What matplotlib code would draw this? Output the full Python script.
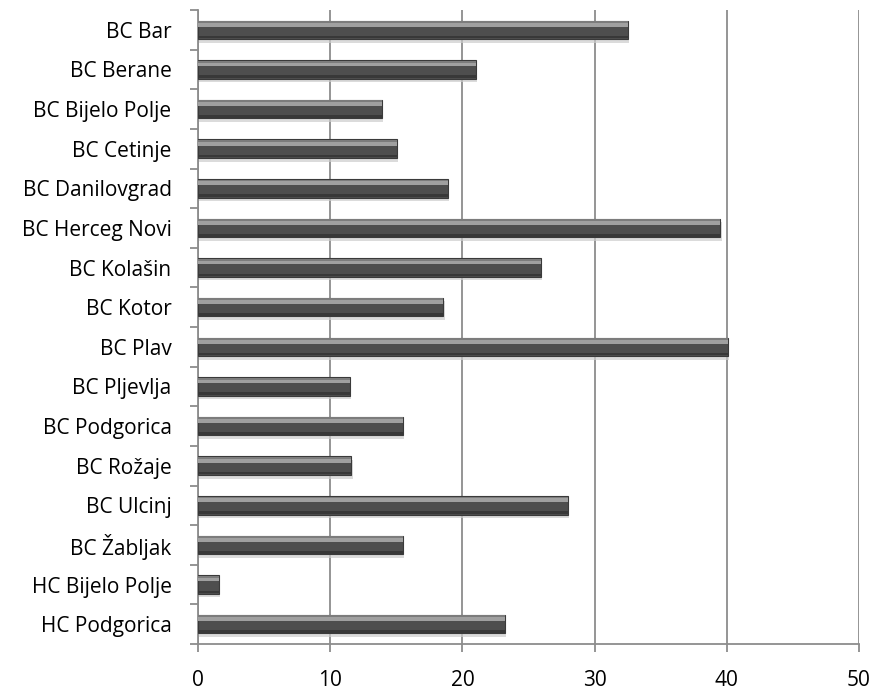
import matplotlib
matplotlib.use("Agg")
import matplotlib.pyplot as plt
import numpy as np

centres = [
    "BC Bar", "BC Berane", "BC Bijelo Polje", "BC Cetinje", "BC Danilovgrad",
    "BC Herceg Novi", "BC Kolašin", "BC Kotor", "BC Plav", "BC Pljevlja",
    "BC Podgorica", "BC Rožaje", "BC Ulcinj", "BC Žabljak",
    "HC Bijelo Polje", "HC Podgorica",
]
values = [32.5, 21.0, 13.9, 15.05, 18.9, 39.5, 25.95, 18.55, 40.1, 11.5,
          15.5, 11.6, 28.0, 15.5, 1.6, 23.2]
x_ticks = [0, 10, 20, 30, 40, 50]

plt.rcParams["font.family"] = ["Open Sans", "DejaVu Sans"]

fig = plt.figure(figsize=(8.75, 6.97), dpi=100)
ax = fig.add_axes([198 / 875, 53 / 697, 661 / 875, 634 / 697])

n = len(centres)
pos = np.arange(n)
h = 0.47

# soft drop shadow
ax.barh(pos + 0.09, values, height=h, left=0.1, color="#cccccc", alpha=0.7,
        zorder=2, linewidth=0)
# main bar body
ax.barh(pos, values, height=h, color="#4e4e4e", edgecolor="#3a3a3a",
        linewidth=0.8, zorder=3)
# top bevel highlight
ax.barh(pos - h * 0.27, values, height=h * 0.2, color="#a0a0a0",
        linewidth=0, zorder=4)
ax.barh(pos - h * 0.42, values, height=h * 0.1, color="#7c7c7c",
        linewidth=0, zorder=4)
# bottom darker edge
ax.barh(pos + h * 0.39, values, height=h * 0.14, color="#383838",
        linewidth=0, zorder=4)

ax.set_xlim(0, 50)
ax.set_ylim(n - 0.5, -0.5)
ax.set_xticks(x_ticks)
ax.set_xticklabels([str(t) for t in x_ticks], fontsize=15)
ax.xaxis.grid(True, color="#8c8c8c", linewidth=1.3, zorder=1)
ax.set_axisbelow(True)

# category labels centred, tick marks on boundaries
ax.set_yticks(np.arange(n + 1) - 0.5)
ax.set_yticklabels([])
ax.set_yticks(pos, minor=True)
ax.set_yticklabels(centres, minor=True, fontsize=15)
ax.tick_params(axis="y", which="minor", length=0, pad=19)
ax.tick_params(axis="y", which="major", length=6, color="#8c8c8c", width=1.3)
ax.tick_params(axis="x", length=6, color="#8c8c8c", width=1.3, pad=13)

for side in ["top", "right"]:
    ax.spines[side].set_visible(False)
for side in ["left", "bottom"]:
    ax.spines[side].set_color("#8c8c8c")
    ax.spines[side].set_linewidth(1.3)

fig.savefig("out.png", dpi=100)
